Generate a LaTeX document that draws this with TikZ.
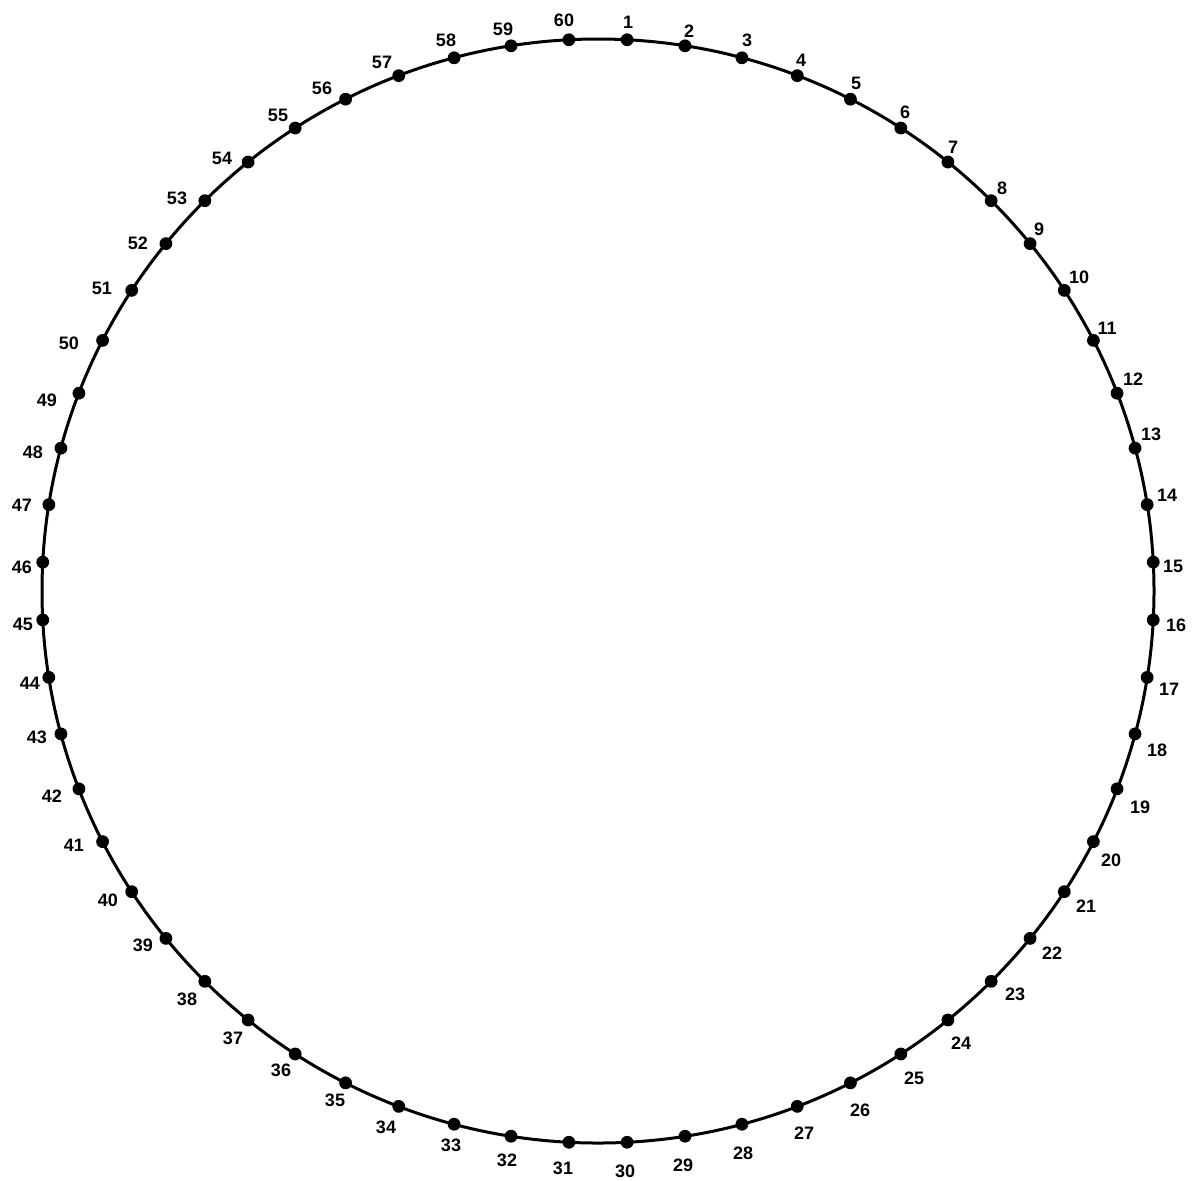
\documentclass[tikz,border=0pt]{standalone}
\usepackage{fontspec}
\setmainfont{Liberation Sans}
\begin{document}
\begin{tikzpicture}[x=0.5pt,y=-0.5pt,
  ring/.style={line width=1.5pt,draw=black},
  dotmark/.style={circle,fill=black,inner sep=0pt,minimum size=6.4pt},
  numlabel/.style={inner sep=0pt,font=\fontsize{9}{10}\selectfont\bfseries}]
\useasboundingbox[fill=white] (0,0) rectangle (1192,1180);
\draw[ring] (598,591) ellipse [x radius=556, y radius=552];
\foreach \k in {1,...,60}{
  \pgfmathsetmacro{\ang}{93-6*\k}
  \node[dotmark] (d\k) at ({598+556*cos(\ang)},{591-552*sin(\ang)}) {};
}
\foreach \k/\lx/\ly in {1/628/22,2/689/31,3/747/40,4/801/60,5/856/83,6/905/112,7/953/147,8/1002/188,9/1039/229,10/1079/277,
11/1107/328,12/1133/379,13/1151/434,14/1167/495,15/1173/566,16/1176/625,17/1169/689,18/1157/750,19/1140/807,20/1111/860,
21/1086/906,22/1052/953,23/1015/994,24/961/1043,25/914/1078,26/860/1110,27/804/1133,28/743/1153,29/683/1165,30/625/1171,
31/563/1168,32/507/1160,33/451/1145,34/386/1127,35/335/1100,36/281/1070,37/233/1038,38/187/999,39/143/945,40/108/900,
41/74/845,42/52/796,43/37/737,44/30/683,45/23/624,46/22/567,47/22/505,48/33/452,49/47/400,50/69/343,
51/102/288,52/138/243,53/177/198,54/222/158,55/278/115,56/322/88,57/382/62,58/446/40,59/503/29,60/564/20}{
  \node[numlabel] (l\k) at (\lx,\ly) {\k};
}
\end{tikzpicture}
\end{document}
